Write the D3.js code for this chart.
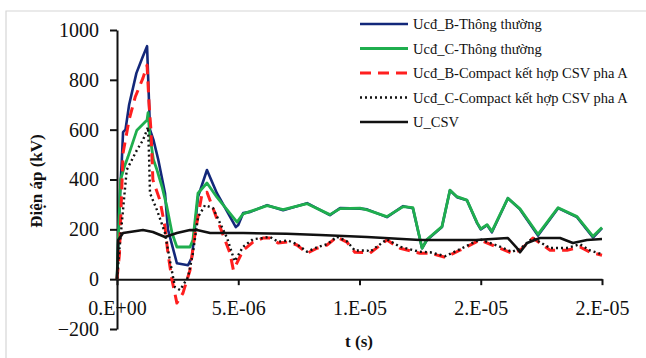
<!DOCTYPE html>
<html>
<head>
<meta charset="utf-8">
<script src="https://cdn.jsdelivr.net/npm/d3@7"></script>
</head>
<body style="margin:0">
<div id="chart"></div>
<script>
// thời gian tính bằng µs, điện áp tính bằng kV
const ucdBThuong = [
    [0, 0], [0.1, 300], [0.2, 480], [0.25, 590], [0.35, 600], [0.5, 700], [0.8, 827], [1.05, 890],
    [1.24, 935], [1.36, 600], [1.5, 560], [1.7, 480], [1.98, 345], [2.1, 200], [2.47, 64],
    [2.93, 56], [3.09, 88], [3.34, 330], [3.71, 438], [4.12, 345], [4.9, 209], [5.0, 217],
    [5.2, 265], [5.5, 270], [6.19, 297], [6.85, 277], [7.84, 305], [8.78, 257], [9.2, 285],
    [10.02, 283], [10.31, 280], [11.13, 249], [11.8, 293], [12.2, 285], [12.58, 124], [12.78, 157],
    [13.4, 209], [13.73, 357], [14.02, 329], [14.43, 317], [14.85, 225], [15.0, 200], [15.26, 217],
    [15.46, 188], [16.12, 325], [16.62, 280], [17.36, 175], [18.19, 285], [18.97, 249], [19.63, 167],
    [20, 205]
];
const ucdCThuong = [
    [0, 0], [0.05, 150], [0.15, 400], [0.3, 450], [0.45, 490], [0.82, 598], [1.24, 639], [1.28, 668],
    [1.35, 580], [1.5, 480], [1.65, 438], [1.86, 370], [2.06, 289], [2.27, 185], [2.47, 129],
    [3.01, 129], [3.13, 157], [3.34, 345], [3.71, 386], [4.12, 329], [4.95, 229], [5.2, 262],
    [5.5, 272], [6.19, 295], [6.85, 279], [7.84, 303], [8.78, 259], [9.2, 283], [10.02, 285],
    [10.31, 278], [11.13, 251], [11.8, 291], [12.2, 287], [12.58, 124], [12.78, 159], [13.4, 211],
    [13.73, 357], [14.02, 331], [14.43, 317], [14.85, 227], [15.0, 202], [15.26, 219], [15.46, 192],
    [16.12, 325], [16.62, 282], [17.36, 180], [18.19, 287], [18.97, 251], [19.63, 172], [20, 207]
];
const ucdBCompact = [
    [0, 0], [0.1, 100], [0.25, 506], [0.5, 640], [0.75, 731], [1.07, 807], [1.24, 859], [1.32, 707],
    [1.4, 598], [1.48, 398], [1.77, 317], [1.98, 209], [2.1, 104], [2.27, -4], [2.47, -96],
    [2.72, -56], [3.01, 36], [3.22, 185], [3.51, 345], [3.71, 349], [4.25, 209], [4.66, 104],
    [4.8, 36], [5.2, 116], [5.61, 149], [6.02, 165], [6.31, 165], [6.64, 145], [7.05, 149],
    [7.42, 137], [7.84, 104], [8.25, 124], [8.66, 137], [9.07, 169], [9.48, 149], [9.81, 108],
    [10.31, 106], [10.43, 104], [11.13, 157], [11.67, 124], [12.49, 104], [12.91, 104], [13.53, 88],
    [14.14, 116], [14.97, 157], [15.67, 129], [16.29, 104], [16.62, 116], [17.15, 165], [17.86, 116],
    [18.56, 116], [19.09, 129], [19.51, 108], [20, 96]
];
const ucdCCompact = [
    [0, 0], [0.1, 120], [0.4, 438], [0.82, 518], [1.07, 558], [1.28, 610], [1.32, 500], [1.36, 345],
    [1.65, 277], [1.98, 185], [2.18, 76], [2.39, -32], [2.6, -44], [2.93, 8], [3.13, 104],
    [3.34, 249], [3.63, 297], [3.96, 285], [4.54, 165], [4.85, 72], [5.2, 130], [5.6, 160],
    [6.0, 165], [6.3, 170], [6.64, 150], [7.05, 155], [7.42, 140], [7.84, 110], [8.25, 128],
    [8.66, 140], [9.07, 170], [9.48, 152], [9.81, 115], [10.31, 115], [10.43, 110], [11.13, 160],
    [11.67, 130], [12.49, 110], [12.91, 108], [13.53, 92], [14.14, 120], [14.97, 160], [15.67, 135],
    [16.29, 110], [16.62, 122], [17.15, 165], [17.86, 125], [18.56, 125], [19.09, 140], [19.51, 115],
    [20, 100]
];
const uCSV = [
    [0, 0], [0.05, 157], [0.25, 185], [1.07, 197], [1.48, 189], [1.98, 169], [2.47, 185], [3.01, 197],
    [3.3, 197], [3.84, 185], [5.2, 185], [7.0, 182], [8.37, 177], [10.31, 169], [12.49, 157],
    [14.8, 157], [16.12, 165], [16.45, 130], [16.62, 108], [16.91, 145], [17.44, 165], [18.27, 165],
    [18.8, 145], [19.38, 157], [20, 161]
];

const seriesNames = ["Ucđ_B-Thông thường", "Ucđ_C-Thông thường", "Ucđ_B-Compact kết hợp CSV pha A",
    "Ucđ_C-Compact kết hợp CSV  pha A", "U_CSV"];
const seriesData = [ucdBThuong, ucdCThuong, ucdBCompact, ucdCCompact, uCSV];
const seriesColors = ["#13287a", "#1fae4e", "#ff1f1f", "#111111", "#111111"];
const seriesDash = [null, null, "11,7", "2,3", null];
const seriesWidth = [2.6, 2.8, 3, 2.4, 2.6];

const yTicks = [-200, 0, 200, 400, 600, 800, 1000];
const xTicks = [0, 5e-6, 1e-5, 1.5e-5, 2e-5];
const xTickLabels = ["0.E+00", "5.E-06", "1.E-05", "2.E-05", "2.E-05"];

const width = 646, height = 358;
const fontSerif = "Times New Roman";

const svg = d3.select("#chart").append("svg")
    .attr("width", width)
    .attr("height", height)
    .attr("font-family", fontSerif)
    .style("display", "block");

// khung viền nhạt
svg.append("path")
    .attr("d", `M6,${height} V11 H${width}`)
    .attr("fill", "none")
    .attr("stroke", "#d6d6d6")
    .attr("stroke-width", 1.2);

const x = d3.scaleLinear().domain([0, 2e-5]).range([117, 602]);
const y = d3.scaleLinear().domain([-200, 1000]).range([329, 30]);

// trục y
svg.append("g")
    .attr("transform", `translate(${x(0)},0)`)
    .call(d3.axisLeft(y).tickValues(yTicks).tickSize(7).tickSizeOuter(0).tickPadding(11)
        .tickFormat(d3.format("d")));

// trục x tại y = 0
svg.append("g")
    .attr("transform", `translate(0,${y(0)})`)
    .call(d3.axisBottom(x).tickValues(xTicks).tickSize(6).tickSizeOuter(0).tickPadding(16)
        .tickFormat((d, i) => xTickLabels[i]));

svg.selectAll("g").attr("font-family", fontSerif).attr("font-size", 20);
svg.selectAll(".tick text").attr("fill", "#111").attr("font-family", fontSerif);
svg.selectAll(".domain, .tick line").attr("stroke", "#111").attr("stroke-width", 2);

const line = d3.line()
    .x(d => x(d[0] * 1e-6))
    .y(d => y(d[1]));

seriesData.forEach((s, i) => {
    svg.append("path")
        .datum(s)
        .attr("fill", "none")
        .attr("stroke", seriesColors[i])
        .attr("stroke-width", seriesWidth[i])
        .attr("stroke-dasharray", seriesDash[i])
        .attr("stroke-linejoin", "round")
        .attr("d", line);
});

// chú thích
const legend = svg.append("g").attr("transform", "translate(360,24)");
seriesNames.forEach((name, i) => {
    const row = legend.append("g").attr("transform", `translate(0,${i * 24.5})`);
    row.append("line")
        .attr("x1", 0).attr("x2", 48)
        .attr("stroke", seriesColors[i])
        .attr("stroke-width", seriesWidth[i])
        .attr("stroke-dasharray", seriesDash[i]);
    row.append("text")
        .attr("x", 53)
        .attr("y", 5)
        .attr("fill", "#111")
        .attr("font-family", fontSerif)
        .attr("font-size", 14.5)
        .text(name);
});

// tiêu đề trục
svg.append("text")
    .attr("transform", "translate(42,181) rotate(-90)")
    .attr("text-anchor", "middle")
    .attr("fill", "#111")
    .attr("font-family", fontSerif)
    .attr("font-size", 17)
    .attr("font-weight", "bold")
    .text("Điện áp (kV)");

svg.append("text")
    .attr("x", 359)
    .attr("y", 347)
    .attr("text-anchor", "middle")
    .attr("fill", "#111")
    .attr("font-family", fontSerif)
    .attr("font-size", 17)
    .attr("font-weight", "bold")
    .text("t (s)");
</script>
</body>
</html>
